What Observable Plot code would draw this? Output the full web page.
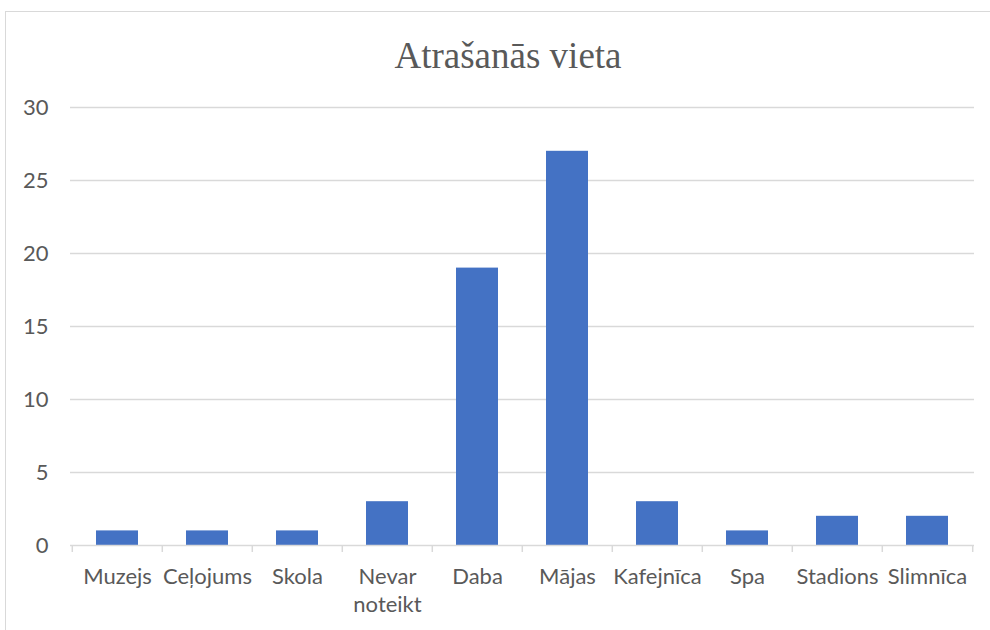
<!DOCTYPE html>
<html><head><meta charset="utf-8">
<script src="https://cdn.jsdelivr.net/npm/d3@7"></script>
<script src="https://cdn.jsdelivr.net/npm/@observablehq/plot@0.6"></script>
<style>
body{margin:0;background:#fff;overflow:hidden;width:990px;height:630px;position:relative;}
#title{box-sizing:border-box;height:90px;width:964px;margin-left:26px;text-align:center;font-family:"Liberation Serif","Times New Roman",serif;font-size:37px;line-height:1;padding-top:37px;color:#595959;}
#chart svg{display:block;}
#frame{position:absolute;left:5px;top:11px;width:1000px;height:700px;border:1.5px solid #d9d9d9;box-sizing:border-box;pointer-events:none;}
</style></head><body>
<div id="title">Atrašanās vieta</div>
<div id="chart"></div>
<div id="frame"></div>
<script>
const categories = ["Muzejs","Ceļojums","Skola","Nevar noteikt","Daba","Mājas","Kafejnīca","Spa","Stadions","Slimnīca"];
const values = [1,1,1,3,19,27,3,1,2,2];
const yTicks = [0,5,10,15,20,25,30];

const data = categories.map((c,i)=>({category:c, value:values[i]}));
const W = 990, H = 540, mL = 70, mR = 16;
const step = (W - mL - mR) / categories.length;

const plot = Plot.plot({
  width: W, height: H,
  marginTop: 17, marginBottom: 85, marginLeft: mL, marginRight: mR,
  style: {fontFamily: "Lato, 'Open Sans', sans-serif", fontSize: "22px", color: "#595959", background: "transparent", overflow: "visible"},
  x: {domain: categories, paddingInner: 0.535, paddingOuter: 0.2675, align: 0.5, axis: null},
  y: {domain: [0, 30], axis: null},
  marks: [
    Plot.gridY(yTicks.filter(t => t > 0), {stroke: "#d9d9d9", strokeOpacity: 1, strokeWidth: 1.3}),
    Plot.axisY(yTicks, {tickSize: 0, tickPadding: 22, label: null}),
    Plot.barY(data, {x: "category", y: "value", fill: "#4472C4"}),
    Plot.ruleY([0], {stroke: "#d9d9d9", strokeWidth: 1.6}),
    Plot.axisX(categories, {tickSize: 7, tickFormat: () => "", dx: -step / 2, stroke: "#d9d9d9", strokeOpacity: 1, strokeWidth: 1.5, label: null}),
    Plot.axisX(categories.slice(-1), {tickSize: 7, tickFormat: () => "", dx: step / 2, stroke: "#d9d9d9", strokeOpacity: 1, strokeWidth: 1.5, label: null}),
    Plot.text(categories, {x: d => d, text: d => d.replace(" ", "\n"), frameAnchor: "bottom", dy: 19, lineAnchor: "top", lineHeight: 1.25, fill: "#595959"})
  ]
});
document.getElementById("chart").appendChild(plot);
</script>
</body></html>
